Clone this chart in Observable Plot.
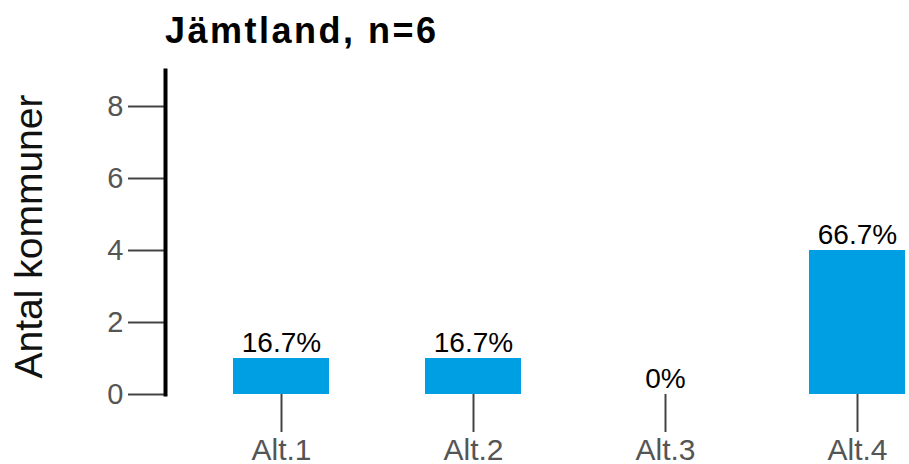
<!DOCTYPE html>
<html>
<head>
<meta charset="utf-8">
<script src="https://cdn.jsdelivr.net/npm/d3@7"></script>
<script src="https://cdn.jsdelivr.net/npm/@observablehq/plot@0.6"></script>
<style>
  html, body { margin: 0; padding: 0; background: #fff; }
  #wrap { position: relative; width: 909px; height: 464px; font-family: "Liberation Sans", Arial, sans-serif; }
  #title { position: absolute; left: 165px; top: 13px; font-size: 36px; font-weight: bold; letter-spacing: 2.5px; line-height: 1; color: #000; white-space: nowrap; }
  #chart { position: absolute; left: 0; top: 60px; }
</style>
</head>
<body>
<div id="wrap">
  <div id="title">Jämtland, n=6</div>
  <div id="chart"></div>
</div>
<script>
const categories = ["Alt.1", "Alt.2", "Alt.3", "Alt.4"];
const counts = [1, 1, 0, 4];
const percentLabels = ["16.7%", "16.7%", "0%", "66.7%"];
const yTicks = [0, 2, 4, 6, 8];
const yLabel = "Antal kommuner";

const data = categories.map((c, i) => ({cat: c, n: counts[i], pct: percentLabels[i]}));

const chart = Plot.plot({
  width: 909,
  height: 404,
  marginLeft: 165,
  marginRight: 0,
  marginTop: 10,
  marginBottom: 70,
  style: {fontFamily: "Liberation Sans, Arial, sans-serif", background: "#fff", overflow: "visible"},
  x: {domain: categories, range: [233, 905], paddingInner: 0.5, paddingOuter: 0, align: 0.5},
  y: {domain: [0, 9]},
  marks: [
    Plot.barY(data, {x: "cat", y: "n", fill: "#009FE3"}),
    Plot.text(data, {x: "cat", y: "n", text: "pct", lineAnchor: "bottom", dy: -7, fontSize: 28, fill: "#000"}),
    Plot.axisX({tickSize: 38, tickPadding: 6, fontSize: 30, stroke: "#444", strokeWidth: 2, color: "#555", label: null}),
    Plot.axisY({ticks: yTicks, tickSize: 37, tickPadding: 5, fontSize: 29, stroke: "#444", strokeWidth: 2, color: "#555", label: null}),
    Plot.frame({anchor: "left", stroke: "#000", strokeWidth: 4}),
    Plot.text([yLabel], {frameAnchor: "left", textAnchor: "middle", rotate: -90, dx: -136, dy: 4, fontSize: 39, fill: "#111"})
  ]
});
document.getElementById("chart").appendChild(chart);
</script>
</body>
</html>
